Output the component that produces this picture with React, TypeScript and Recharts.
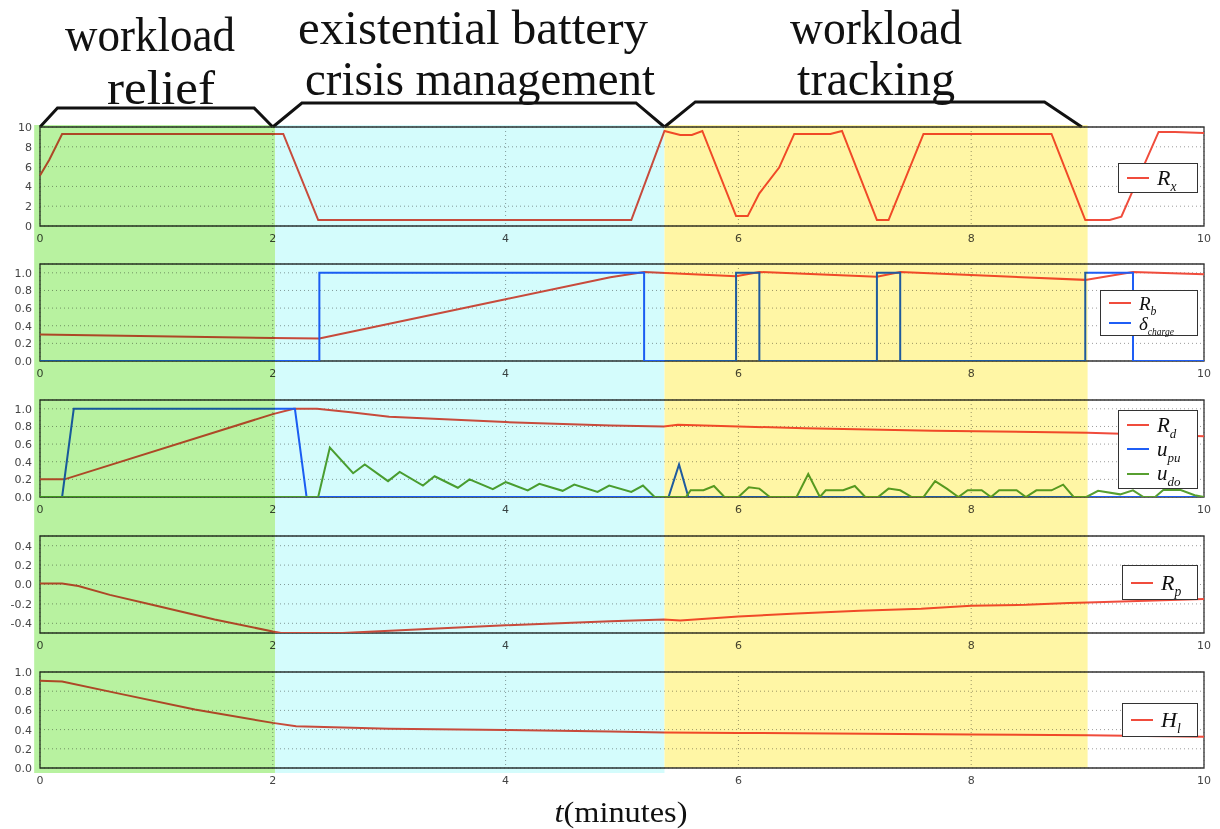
import React from 'react';
import { LineChart, Line, XAxis, YAxis, CartesianGrid, ReferenceArea, Legend } from 'recharts';

// ---- shared time axis (minutes) ----
const T_TICKS = [0, 2, 4, 6, 8, 10];

// ---- mission phases ----
const phaseStart = [-0.05, 2.02, 5.365];
const phaseEnd = [2.02, 5.365, 9.0];
const phaseColors = ['#b8f2a0', '#d4fcfc', '#fff6a5'];

// ---- phase brackets (time, relative height) ----
const bracket1T = [0, 0.15, 1.84, 2.0];
const bracket1H = [0, 0.7, 0.7, 0];
const bracket2T = [2.0, 2.25, 5.12, 5.365];
const bracket2H = [0, 0.89, 0.89, 0];
const bracket3T = [5.365, 5.63, 8.63, 8.95];
const bracket3H = [0, 0.93, 0.93, 0];

// ---- R_x ----
const rxT = [0, 0.08, 0.19, 2.09, 2.39, 5.08, 5.365, 5.5, 5.6, 5.69, 5.98, 6.08, 6.18, 6.35, 6.48, 6.79, 6.89, 7.19, 7.29, 7.59, 8.69, 8.98, 9.19, 9.29, 9.61, 9.75, 10];
const rxV = [5.1, 6.7, 9.3, 9.3, 0.6, 0.6, 9.6, 9.2, 9.2, 9.6, 1.0, 1.0, 3.3, 5.9, 9.3, 9.3, 9.6, 0.6, 0.6, 9.3, 9.3, 0.6, 0.6, 0.95, 9.5, 9.5, 9.4];

// ---- R_b and charging flag ----
const rbT = [0, 2.0, 2.4, 4.0, 4.9, 5.19, 5.98, 6.18, 7.19, 7.39, 8.98, 9.39, 10];
const rbV = [0.3, 0.26, 0.255, 0.7, 0.95, 1.01, 0.96, 1.01, 0.955, 1.01, 0.92, 1.01, 0.985];
const dcT = [0, 2.4, 5.19, 5.98, 6.18, 7.19, 7.39, 8.98, 9.39, 10];
const dcV = [0, 1, 0, 1, 0, 1, 0, 1, 0, 0];

// ---- R_d, u_pu, u_do ----
const rdT = [0, 0.21, 2.0, 2.18, 2.38, 2.67, 3.0, 4.0, 4.9, 5.36, 5.48, 6.0, 6.57, 7.67, 9.0, 10];
const rdV = [0.2, 0.2, 0.94, 1.0, 1.0, 0.96, 0.91, 0.85, 0.81, 0.8, 0.82, 0.8, 0.78, 0.75, 0.73, 0.69];
const upT = [0, 0.19, 0.29, 2.19, 2.29, 5.4, 5.49, 5.57, 10];
const upV = [0, 0, 1, 1, 0, 0, 0.37, 0, 0];
const udT = [0, 2.39, 2.49, 2.69, 2.79, 2.99, 3.09, 3.29, 3.39, 3.59, 3.69, 3.89, 4.0, 4.19, 4.29, 4.49, 4.59, 4.79, 4.89, 5.08, 5.18, 5.28, 5.55, 5.59, 5.7, 5.79, 5.88, 6.0, 6.09, 6.18, 6.27, 6.5, 6.6, 6.7, 6.75, 6.9, 7.0, 7.09, 7.2, 7.29, 7.39, 7.49, 7.59, 7.69, 7.79, 7.89, 7.97, 8.09, 8.17, 8.24, 8.39, 8.47, 8.56, 8.69, 8.79, 8.88, 8.99, 9.09, 9.28, 9.39, 9.48, 9.58, 9.65, 9.8, 9.92, 10];
const udV = [0, 0, 0.56, 0.27, 0.37, 0.18, 0.285, 0.13, 0.235, 0.105, 0.2, 0.09, 0.17, 0.075, 0.15, 0.07, 0.14, 0.057, 0.13, 0.057, 0.13, 0, 0, 0.076, 0.076, 0.125, 0, 0, 0.11, 0.095, 0, 0, 0.26, 0, 0.076, 0.076, 0.125, 0, 0, 0.095, 0.076, 0, 0, 0.18, 0.095, 0, 0.076, 0.076, 0, 0.076, 0.076, 0, 0.076, 0.076, 0.14, 0, 0, 0.07, 0.03, 0.076, 0, 0, 0.08, 0.08, 0.02, 0];

// ---- R_p ----
const rpT = [0, 0.19, 0.33, 0.6, 1.0, 1.5, 2.0, 2.07, 2.6, 4.0, 4.9, 5.36, 5.5, 6.0, 6.5, 7.04, 7.57, 8.0, 8.47, 8.84, 9.0, 10];
const rpV = [0.01, 0.01, -0.015, -0.107, -0.22, -0.36, -0.485, -0.5, -0.5, -0.42, -0.38, -0.36, -0.37, -0.33, -0.3, -0.27, -0.25, -0.22, -0.21, -0.19, -0.185, -0.15];

// ---- H_l ----
const hlT = [0, 0.19, 0.66, 1.33, 2.0, 2.2, 3.0, 4.0, 4.9, 5.36, 6.0, 8.0, 9.0, 10];
const hlV = [0.91, 0.9, 0.78, 0.61, 0.47, 0.435, 0.41, 0.395, 0.38, 0.37, 0.365, 0.35, 0.34, 0.325];

// ---- tick values ----
const rxTicks = [0, 2, 4, 6, 8, 10];
const unitTicks = [0, 0.2, 0.4, 0.6, 0.8, 1.0];
const rpTicks = [-0.4, -0.2, 0, 0.2, 0.4];

const RED = '#f04c3c';
const BLUE = '#1f5ef5';
const GREEN = '#579f30';

const W = 1220;
const MARGIN_L = 10;
const MARGIN_R = 16;
const Y_AXIS_W = 30;
const PLOT_L = MARGIN_L + Y_AXIS_W;

const zip = (t: number[], v: number[]) => t.map((x, i) => ({ t: x, v: v[i] }));

type Series = { name: string; sub: string; color: string; t: number[]; v: number[]; step?: boolean };

type LegendBox = { left: number; top: number; width: number; height: number; fontSize: number };

const tickStyle = { fontSize: 11, fill: '#444', fontFamily: 'DejaVu Sans' };

function MathLegend({ series, box }: { series: Series[]; box: LegendBox }) {
  const rowH = (box.height - 6) / series.length;
  return (
    <div
      style={{
        boxSizing: 'border-box',
        width: box.width,
        height: box.height,
        background: '#fff',
        border: '1.5px solid #333',
        padding: '2px 0 2px 8px',
        fontFamily: 'Liberation Serif',
      }}
    >
      {series.map((s) => (
        <div key={s.name + s.sub} style={{ display: 'flex', alignItems: 'center', height: rowH }}>
          <span style={{ display: 'inline-block', width: 22, borderTop: `2.5px solid ${s.color}`, marginRight: 8 }} />
          <span style={{ fontStyle: 'italic', fontSize: box.fontSize, lineHeight: 1, whiteSpace: 'nowrap', color: '#111' }}>
            {s.name}
            <span
              style={{
                fontSize: s.sub.length > 2 ? box.fontSize * 0.5 : box.fontSize * 0.62,
                position: 'relative',
                top: box.fontSize * 0.28,
              }}
            >
              {s.sub}
            </span>
          </span>
        </div>
      ))}
    </div>
  );
}

type PanelProps = {
  top: number;
  plotH: number;
  domain: [number, number];
  yTicks: number[];
  fmt: (v: number) => string;
  series: Series[];
  legend: LegendBox;
};

function Panel({ top, plotH, domain, yTicks, fmt, series, legend }: PanelProps) {
  const mt = 6;
  const mb = 4;
  const xh = 18;
  return (
    <div style={{ position: 'absolute', left: 0, top: top - mt }}>
      <LineChart width={W} height={mt + plotH + xh + mb} margin={{ top: mt, right: MARGIN_R, bottom: mb, left: MARGIN_L }}>
        <CartesianGrid stroke="#9c9c9c" strokeDasharray="1 3" />
        <XAxis
          type="number"
          dataKey="t"
          domain={[0, 10]}
          ticks={T_TICKS}
          interval={0}
          tickLine={false}
          axisLine={false}
          height={xh}
          tick={tickStyle}
        />
        <YAxis
          type="number"
          domain={domain}
          ticks={yTicks}
          interval={0}
          allowDataOverflow
          tickFormatter={fmt}
          tickLine={false}
          axisLine={false}
          width={Y_AXIS_W}
          tick={tickStyle}
        />
        {series.map((s) => (
          <Line
            key={s.name + s.sub}
            data={zip(s.t, s.v)}
            dataKey="v"
            name={s.name + s.sub}
            type={s.step ? 'stepAfter' : 'linear'}
            stroke={s.color}
            strokeWidth={2}
            dot={false}
            isAnimationActive={false}
          />
        ))}
        <ReferenceArea
          x1={0}
          x2={10}
          y1={domain[0]}
          y2={domain[1]}
          fill="none"
          stroke="#333"
          strokeWidth={1.3}
          ifOverflow="visible"
        />
        <Legend
          layout="vertical"
          align="center"
          verticalAlign="middle"
          wrapperStyle={{ left: legend.left, top: legend.top - (top - mt), width: 'auto' }}
          content={() => <MathLegend series={series} box={legend} />}
        />
      </LineChart>
    </div>
  );
}

const fmtInt = (v: number) => String(Math.round(v));
const fmt1 = (v: number) => v.toFixed(1);

export default function App() {
  const overlayTop = 125;
  const overlayH = 648;
  return (
    <div style={{ position: 'absolute', left: 0, top: 0, width: W, height: 829, background: '#fff', overflow: 'hidden' }}>
      {/* phase titles */}
      <svg width={W} height={125} style={{ position: 'absolute', left: 0, top: 0 }}>
        <g fontFamily="Liberation Serif" fontSize={48} fill="#111" textAnchor="middle">
          <text x={150} y={51} textLength={170} lengthAdjust="spacingAndGlyphs">workload</text>
          <text x={161} y={104} textLength={108} lengthAdjust="spacingAndGlyphs">relief</text>
          <text x={473} y={44} textLength={350} lengthAdjust="spacingAndGlyphs">existential battery</text>
          <text x={480} y={95} textLength={350} lengthAdjust="spacingAndGlyphs">crisis management</text>
          <text x={876} y={44} textLength={172} lengthAdjust="spacingAndGlyphs">workload</text>
          <text x={876} y={95} textLength={158} lengthAdjust="spacingAndGlyphs">tracking</text>
        </g>
      </svg>

      {/* phase brackets */}
      <div style={{ position: 'absolute', left: 0, top: 97 }}>
        <LineChart width={W} height={33} margin={{ top: 3, right: MARGIN_R, bottom: 3, left: PLOT_L }}>
          <XAxis type="number" dataKey="t" domain={[0, 10]} hide />
          <YAxis type="number" domain={[0, 1]} hide />
          {[
            [bracket1T, bracket1H],
            [bracket2T, bracket2H],
            [bracket3T, bracket3H],
          ].map(([t, h], i) => (
            <Line
              key={i}
              data={zip(t, h)}
              dataKey="v"
              type="linear"
              stroke="#111"
              strokeWidth={3}
              dot={false}
              isAnimationActive={false}
            />
          ))}
        </LineChart>
      </div>

      <Panel
        top={127}
        plotH={99}
        domain={[0, 10]}
        yTicks={rxTicks}
        fmt={fmtInt}
        series={[{ name: 'R', sub: 'x', color: RED, t: rxT, v: rxV }]}
        legend={{ left: 1118, top: 163, width: 80, height: 30, fontSize: 22 }}
      />
      <Panel
        top={264}
        plotH={97}
        domain={[0, 1.1]}
        yTicks={unitTicks}
        fmt={fmt1}
        series={[
          { name: 'R', sub: 'b', color: RED, t: rbT, v: rbV },
          { name: 'δ', sub: 'charge', color: BLUE, t: dcT, v: dcV, step: true },
        ]}
        legend={{ left: 1100, top: 290, width: 98, height: 46, fontSize: 19 }}
      />
      <Panel
        top={400}
        plotH={97}
        domain={[0, 1.1]}
        yTicks={unitTicks}
        fmt={fmt1}
        series={[
          { name: 'R', sub: 'd', color: RED, t: rdT, v: rdV },
          { name: 'u', sub: 'pu', color: BLUE, t: upT, v: upV },
          { name: 'u', sub: 'do', color: GREEN, t: udT, v: udV },
        ]}
        legend={{ left: 1118, top: 410, width: 80, height: 79, fontSize: 21 }}
      />
      <Panel
        top={536}
        plotH={97}
        domain={[-0.5, 0.5]}
        yTicks={rpTicks}
        fmt={fmt1}
        series={[{ name: 'R', sub: 'p', color: RED, t: rpT, v: rpV }]}
        legend={{ left: 1122, top: 565, width: 76, height: 35, fontSize: 22 }}
      />
      <Panel
        top={672}
        plotH={96}
        domain={[0, 1]}
        yTicks={unitTicks}
        fmt={fmt1}
        series={[{ name: 'H', sub: 'l', color: RED, t: hlT, v: hlV }]}
        legend={{ left: 1122, top: 703, width: 76, height: 34, fontSize: 22 }}
      />

      {/* phase shading, multiplied over the panels */}
      <div style={{ position: 'absolute', left: 0, top: overlayTop, mixBlendMode: 'multiply', pointerEvents: 'none' }}>
        <LineChart
          width={W}
          height={overlayH}
          data={phaseStart.map((s, i) => ({ t: s, v: i / 2 }))}
          margin={{ top: 0, right: MARGIN_R, bottom: 0, left: PLOT_L }}
        >
          <XAxis type="number" dataKey="t" domain={[0, 10]} allowDataOverflow hide />
          <YAxis type="number" domain={[0, 1]} allowDataOverflow hide />
          <Line dataKey="v" stroke="none" dot={false} isAnimationActive={false} legendType="none" />
          {phaseStart.map((s, i) => (
            <ReferenceArea
              key={i}
              x1={s}
              x2={phaseEnd[i]}
              y1={i === 2 ? 0.008 : 0}
              y2={1}
              fill={phaseColors[i]}
              fillOpacity={1}
              stroke="none"
              ifOverflow="visible"
            />
          ))}
        </LineChart>
      </div>

      {/* time axis caption */}
      <svg width={W} height={40} style={{ position: 'absolute', left: 0, top: 789 }}>
        <text x={621} y={33} fontFamily="Liberation Serif" fontSize={30} fill="#111" textAnchor="middle" textLength={133} lengthAdjust="spacingAndGlyphs">
          <tspan fontStyle="italic">t</tspan>(minutes)
        </text>
      </svg>
    </div>
  );
}
